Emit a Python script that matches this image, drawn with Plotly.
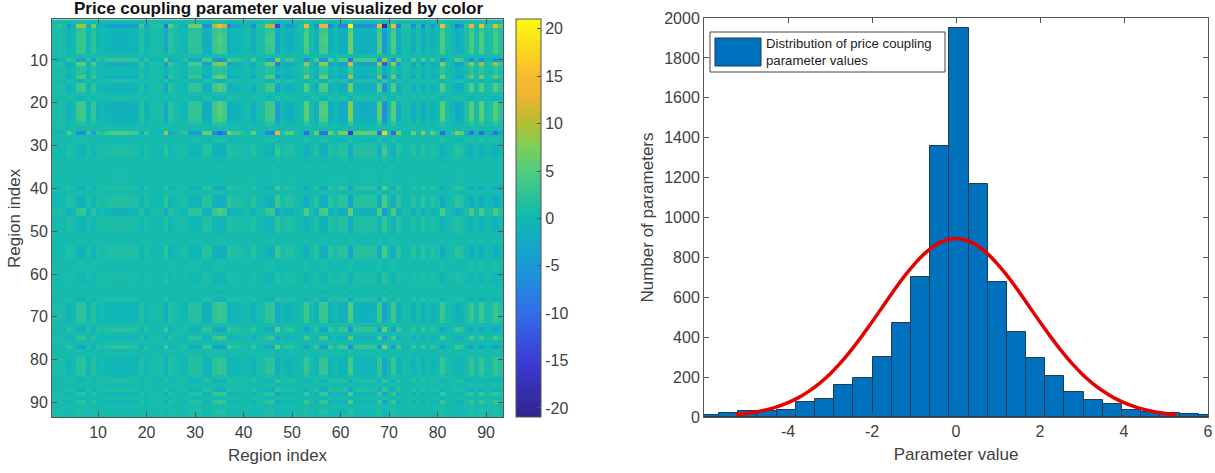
import plotly.graph_objects as go

W, H = 1215, 473

# Heatmap values are estimated from the picture as a background level, a column profile
# (read along the strongest row, row 2) and a signed row weight (read along column 47).
background_level = 0.5
column_profile = [1, 2, 0, -6, -1, 8, 9, -3, 6, -3, -1, -4, -5, -5, -5, -5, -4, -4, 3, -4,
                  1, 1, 1, -10, 5, 1, -1, -3, 6, 6, 6, -7, -7, 9, 14, 10, -9, -4, -4, -1,
                  0, -7, 1, 1, 9, 10, -15, -1, -6, -6, -1, 1, 14, 0, -7, 12, 13, -8, -1, -8,
                  -8, 20, -6, -7, -7, -7, -6, 14, -20, -1, 14, -9, 1, 1, -7, 1, -9, 0, -6, -1,
                  14, 1, -1, -10, -6, 2, 13, 0, 14, 1, 2, 13, 4]
row_weight = [0.05, 1.0, 0.22, 0.28, 0.32, 0.32, 0.28, 0.28, 0.0, -0.5,
              0.6, 0.15, 0.12, 0.42, -0.12, 0.32, 0.32, 0.04, -0.08, 0.32,
              0.36, 0.36, 0.36, 0.3, 0.1, 0.0, -0.8, 0.0, 0.07, -0.1,
              -0.17, -0.17, -0.03, -0.03, 0.03, -0.03, 0.0, -0.03, 0.0, -0.22,
              0.03, -0.2, -0.2, -0.2, 0.3, 0.26, -0.1, -0.13, -0.13, -0.1,
              0.0, 0.03, 0.0, -0.2, -0.2, -0.16, 0.03, 0.03, 0.03, -0.07,
              -0.07, -0.07, 0.03, -0.03, 0.03, -0.13, 0.22, 0.22, 0.22, 0.22,
              0.18, 0.0, -0.3, 0.0, 0.26, 0.0, -0.38, 0.03, 0.0, 0.18,
              0.18, 0.18, 0.18, 0.03, -0.13, 0.03, -0.13, 0.2, -0.03, 0.2,
              0.0, 0.07, 0.03]
region_index = list(range(1, 94))
region_ticks = [10, 20, 30, 40, 50, 60, 70, 80, 90]
colorbar_ticks = [-20, -15, -10, -5, 0, 5, 10, 15, 20]
colorbar_labels = ["-20", "-15", "-10", "-5", "0", "5", "10", "15", "20"]

bin_left_edge = -6.1
bin_width = 0.457
bin_counts = [10, 20, 30, 30, 36, 76, 90, 158, 198, 303, 470, 700, 1360, 1950, 1168, 675, 425,
              297, 207, 125, 86, 66, 36, 27, 22, 15, 12]
value_ticks = [-4, -2, 0, 2, 4, 6]
value_labels = ["-4", "-2", "0", "2", "4", "6"]
curve_x = [-5.25, -5, -4.75, -4.5, -4.25, -4, -3.75, -3.5, -3.25, -3, -2.75, -2.5, -2.25, -2,
           -1.75, -1.5, -1.25, -1, -0.75, -0.5, -0.25, 0, 0.25, 0.5, 0.75, 1, 1.25, 1.5, 1.75,
           2, 2.25, 2.5, 2.75, 3, 3.25, 3.5, 3.75, 4, 4.25, 4.5, 4.75, 5, 5.25]
curve_y = [12, 17, 25, 37, 52, 72, 97, 130, 169, 216, 271, 334, 403, 476, 552, 628, 700, 764,
           819, 860, 886, 895, 886, 860, 819, 764, 700, 628, 552, 476, 403, 334, 271, 216, 169,
           130, 97, 72, 52, 37, 25, 17, 12]

z = [[background_level + w * c for c in column_profile] for w in row_weight]
bin_centers = [bin_left_edge + (i + 0.5) * bin_width for i in range(len(bin_counts))]

parula = [[0.0, "rgb(50,35,140)"], [0.143, "rgb(60,60,215)"], [0.262, "rgb(50,110,232)"],
          [0.381, "rgb(25,155,215)"], [0.5, "rgb(15,185,178)"], [0.619, "rgb(80,205,125)"],
          [0.69, "rgb(135,205,80)"], [0.738, "rgb(180,190,50)"], [0.81, "rgb(240,180,50)"],
          [0.857, "rgb(250,185,45)"], [0.976, "rgb(250,240,20)"], [1.0, "rgb(250,250,15)"]]

FONT = "Liberation Sans"
TXT = "#404040"
AX = "#555555"


def px(x):
    return x / W


def py(y):
    return 1 - y / H


def xd(a, b):
    return [px(a), px(b)]


def yd(top, bottom):
    return [py(bottom), py(top)]


fig = go.Figure()
fig.add_trace(go.Heatmap(
    x=region_index, y=region_index, z=z, zmin=-21, zmax=21, colorscale=parula,
    xaxis="x", yaxis="y", showscale=True,
    colorbar=dict(x=px(516), xanchor="left", y=py(417.4), yanchor="bottom",
                  len=398 / H, lenmode="fraction", thickness=25, thicknessmode="pixels",
                  tickvals=colorbar_ticks, ticktext=colorbar_labels, ticks="inside", ticklen=4, tickcolor=AX,
                  outlinecolor=AX, outlinewidth=1, xpad=0, ypad=0,
                  tickfont=dict(family=FONT, size=16, color=TXT)),
))
fig.add_trace(go.Bar(
    x=bin_centers, y=bin_counts, width=bin_width, xaxis="x2", yaxis="y2",
    marker=dict(color="#0072BD", line=dict(color="#1c3c5c", width=1)), showlegend=False,
))
fig.add_trace(go.Scatter(
    x=curve_x, y=curve_y, mode="lines", xaxis="x2", yaxis="y2", showlegend=False,
    line=dict(color="#E60000", width=3.5, shape="spline"),
))

axis_common = dict(showgrid=False, zeroline=False, showline=True, linecolor=AX, linewidth=1,
                   mirror="ticks", ticks="inside", ticklen=5, tickcolor=AX, automargin=False,
                   tickfont=dict(family=FONT, size=16, color=TXT))
title_font = dict(family=FONT, size=17, color=TXT)

fig.update_layout(
    width=W, height=H, margin=dict(l=0, r=0, t=0, b=0, autoexpand=False), paper_bgcolor="white",
    plot_bgcolor="white", bargap=0, showlegend=False,
    xaxis=dict(domain=xd(52, 503), range=[0.5, 93.5], tickvals=region_ticks, anchor="y",
               title=dict(text="Region index", font=title_font, standoff=9), **axis_common),
    yaxis=dict(domain=yd(19.3, 417.4), range=[93.5, 0.5], tickvals=region_ticks, anchor="x",
               title=dict(text="Region index", font=title_font, standoff=5), **axis_common),
    xaxis2=dict(domain=xd(704, 1208), range=[-6, 6], tickvals=value_ticks, ticktext=value_labels, anchor="y2",
                title=dict(text="Parameter value", font=title_font, standoff=8), **axis_common),
    yaxis2=dict(domain=yd(18, 417), range=[0, 2000], dtick=200, anchor="x2",
                title=dict(text="Number of parameters", font=title_font, standoff=6), **axis_common),
    annotations=[
        dict(text="<b>Price coupling parameter value visualized by color</b>", xref="paper", yref="paper",
             x=px(278), y=py(9), xanchor="center", yanchor="middle", showarrow=False,
             font=dict(family=FONT, size=17, color="#111111")),
        dict(text="Distribution of price coupling<br>parameter values", xref="paper", yref="paper",
             x=px(764), y=py(52), xanchor="left", yanchor="middle", align="left", showarrow=False,
             font=dict(family=FONT, size=13.2, color="#222222")),
    ],
    shapes=[
        dict(type="rect", xref="paper", yref="paper", x0=px(710), x1=px(945), y0=py(72), y1=py(32),
             line=dict(color="#444444", width=1), fillcolor="white", layer="above"),
        dict(type="rect", xref="paper", yref="paper", x0=px(715), x1=px(761), y0=py(66), y1=py(38),
             line=dict(color="#1c3c5c", width=1), fillcolor="#0072BD", layer="above"),
    ],
)

fig.write_html("out.html", config={"displayModeBar": False},
               post_script="document.body.style.margin='0';window.dispatchEvent(new Event('resize'));")
